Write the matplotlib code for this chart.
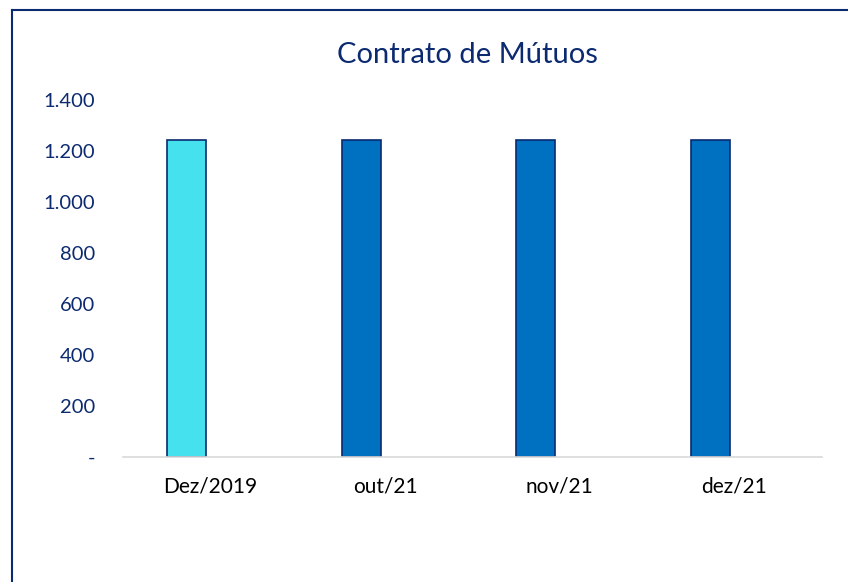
import numpy as np
import matplotlib
matplotlib.use("Agg")
import matplotlib.pyplot as plt
from matplotlib.ticker import FuncFormatter

categories = ["Dez/2019", "out/21", "nov/21", "dez/21"]
values = [1245, 1245, 1245, 1245]
bar_colors = ["#45E1EE", "#0070C0", "#0070C0", "#0070C0"]

plt.rcParams["font.family"] = ["Lato", "DejaVu Sans"]
NAVY = "#0B2A6F"

fig = plt.figure(figsize=(8.48, 5.82), dpi=100)
ax = fig.add_axes([0.145, 0.2148, 0.824, 0.6134])

x = np.arange(len(categories))
ax.bar(x - 0.137, values, 0.223, color=bar_colors, edgecolor="#0B2A6F", linewidth=1.2)

ax.set_xlim(-0.5, len(categories) - 0.5)
ax.set_ylim(0, 1400)
ax.set_yticks(np.arange(0, 1401, 200))
ax.yaxis.set_major_formatter(FuncFormatter(
    lambda v, p: "-" if v == 0 else f"{int(v):,}".replace(",", ".")))
ax.set_xticks(x)
ax.set_xticklabels(categories)

for s in ["top", "right", "left"]:
    ax.spines[s].set_visible(False)
ax.spines["bottom"].set_color("#D9D9D9")
ax.spines["bottom"].set_linewidth(1.2)
ax.tick_params(axis="both", length=0)
ax.tick_params(axis="y", colors=NAVY, labelsize=14.5, pad=20)
ax.tick_params(axis="x", colors="black", labelsize=15, pad=14)

fig.text(0.551, 0.905, "Contrato de Mútuos", ha="center", va="center",
         fontsize=21, color=NAVY)

# outer frame (only top and left edges visible in the crop)
fig.add_artist(plt.Line2D([12 / 848, 12 / 848], [0, 1 - 10 / 582],
                          color=NAVY, lw=1.5, transform=fig.transFigure))
fig.add_artist(plt.Line2D([12 / 848, 1], [1 - 10 / 582, 1 - 10 / 582],
                          color=NAVY, lw=1.5, transform=fig.transFigure))

fig.savefig("out.png", dpi=100)
